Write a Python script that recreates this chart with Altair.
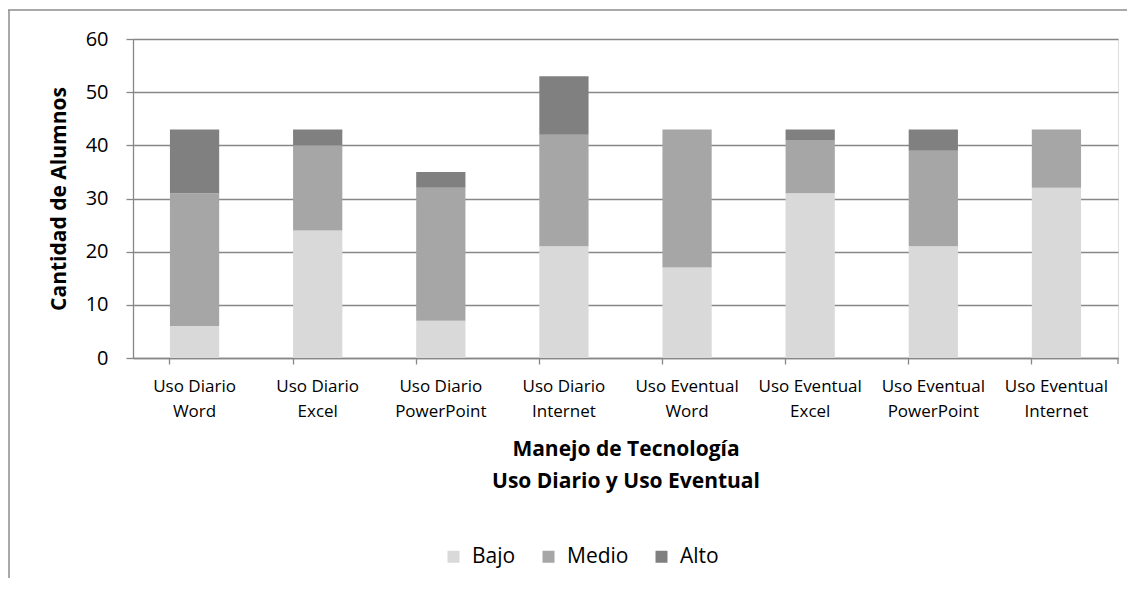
import altair as alt
import pandas as pd

categorias = ["Uso Diario Word", "Uso Diario Excel", "Uso Diario PowerPoint", "Uso Diario Internet",
              "Uso Eventual Word", "Uso Eventual Excel", "Uso Eventual PowerPoint", "Uso Eventual Internet"]
niveles = ["Bajo", "Medio", "Alto"]
bajo = [6, 24, 7, 21, 17, 31, 21, 32]
medio = [25, 16, 25, 21, 26, 10, 18, 11]
alto = [12, 3, 3, 11, 0, 2, 4, 0]
colores = ["#d9d9d9", "#a6a6a6", "#808080"]
y_ticks = [0, 10, 20, 30, 40, 50, 60]

rows = []
for i, c in enumerate(categorias):
    for j, (n, serie) in enumerate(zip(niveles, [bajo, medio, alto])):
        rows.append({"Categoria": c, "Nivel": n, "Valor": serie[i], "Orden": j})
df = pd.DataFrame(rows)

W, H = 985, 319
FONT = "Open Sans"
GRAY = "#878787"

bars = alt.Chart(df).mark_bar().encode(
    x=alt.X("Categoria:N", sort=categorias,
            scale=alt.Scale(paddingInner=0.6, paddingOuter=0.3),
            axis=alt.Axis(title=["Manejo de Tecnología", "Uso Diario y Uso Eventual"],
                          labelAngle=0,
                          labelExpr="[slice(datum.label,0,lastindexof(datum.label,' ')), slice(datum.label,lastindexof(datum.label,' ')+1)]",
                          bandPosition=0, tickSize=6, tickColor=GRAY, tickWidth=1.3,
                          domainColor=GRAY, domainWidth=1.3,
                          labelFont=FONT, labelFontSize=17, labelColor="black",
                          labelLineHeight=25, labelPadding=14,
                          titleFont=FONT, titleFontSize=21, titleFontWeight="bold",
                          titleColor="black", titleLineHeight=32, titlePadding=19,
                          grid=False)),
    y=alt.Y("Valor:Q", stack="zero",
            scale=alt.Scale(domain=[0, 60], nice=False),
            axis=alt.Axis(title="Cantidad de Alumnos", values=y_ticks,
                          tickSize=7, tickColor=GRAY, tickWidth=1.3,
                          domainColor=GRAY, domainWidth=1.3,
                          gridColor=GRAY, gridWidth=1.3,
                          labelFont=FONT, labelFontSize=20, labelColor="black",
                          labelPadding=18,
                          titleFont=FONT, titleFontSize=21, titleFontWeight="bold",
                          titleColor="black", titlePadding=16)),
    color=alt.Color("Nivel:N", scale=alt.Scale(domain=niveles, range=colores),
                    legend=alt.Legend(title=None, orient="none", legendX=310, legendY=507,
                                      direction="horizontal", symbolType="square",
                                      symbolSize=144, symbolStrokeWidth=0,
                                      labelFont=FONT, labelFontSize=21, labelColor="black",
                                      columnPadding=22, labelOffset=8, padding=0)),
    order=alt.Order("Orden:Q"),
)

frame_df = pd.DataFrame({"k": [0]})
top_line = alt.Chart(frame_df).mark_rule(color="#8c8c8c", strokeWidth=1.5).encode(
    x=alt.value(-125), x2=alt.value(W + 9), y=alt.value(-29))
left_line = alt.Chart(frame_df).mark_rule(color="#8c8c8c", strokeWidth=1.5).encode(
    x=alt.value(-124), y=alt.value(-29), y2=alt.value(H + 230))
end_tick = alt.Chart(frame_df).mark_rule(color=GRAY, strokeWidth=1.3).encode(
    x=alt.value(W), y=alt.value(H), y2=alt.value(H + 6))

chart = alt.layer(bars, top_line, left_line, end_tick).properties(
    width=W, height=H,
    autosize=alt.AutoSizeParams(type="none"),
    padding={"left": 125, "top": 31, "right": 9, "bottom": 220},
).configure_view(stroke=None).configure(background="white")

chart.save("out.html", embed_options={"renderer": "svg", "actions": False})
